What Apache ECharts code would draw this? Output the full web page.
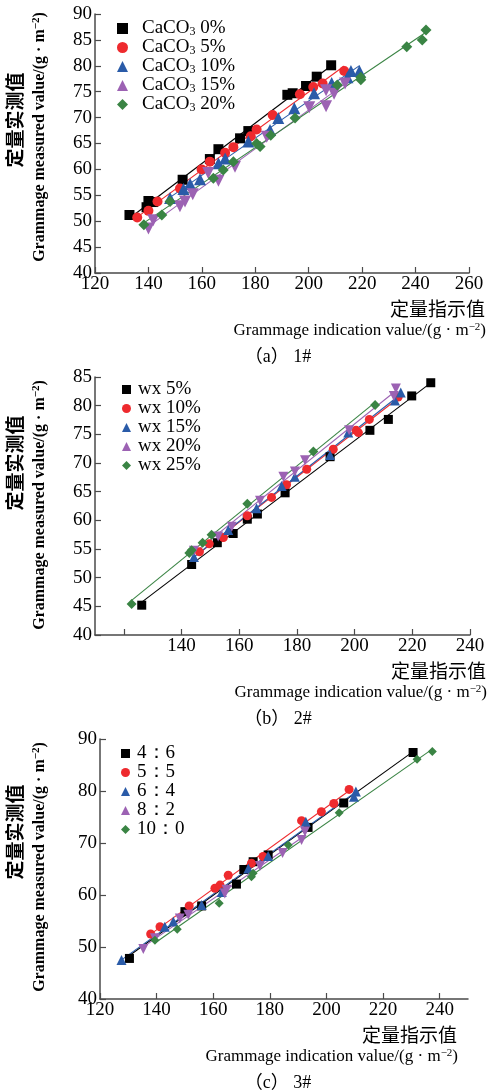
<!DOCTYPE html>
<html><head><meta charset="utf-8">
<script src="https://cdn.jsdelivr.net/npm/echarts@6/dist/echarts.min.js"></script>
<style>html,body{margin:0;padding:0;background:#fff}#c{width:488px;height:1092px}</style>
</head><body><div id="c"></div>
<script>
// ---------- Data ----------
// Panel (a) 1#
const a_names = ['CaCO3 0%','CaCO3 5%','CaCO3 10%','CaCO3 15%','CaCO3 20%'];
const a_caco3_0 = [[132.9,51.2],[139.3,52.7],[140.0,53.9],[141.8,53.7],[152.8,58.0],[163.0,62.0],[166.2,63.9],[174.3,66.0],[177.4,67.4],[192.0,74.4],[194.0,74.7],[199.0,76.1],[203.0,77.9],[208.4,80.1]];
const a_caco3_5 = [[135.8,50.7],[140.0,52.0],[143.4,53.8],[151.8,56.3],[159.9,60.0],[163.0,61.5],[168.7,63.2],[171.8,64.3],[178.3,66.4],[180.5,67.7],[186.5,70.5],[196.7,74.5],[201.7,75.9],[205.2,76.6],[213.3,79.0]];
const a_caco3_10 = [[148.1,54.5],[153.1,56.2],[155.6,57.2],[159.3,58.1],[166.2,61.2],[168.7,62.1],[177.4,65.4],[185.5,67.6],[188.6,69.9],[194.6,71.8],[202.0,74.7],[208.6,76.7],[214.5,77.8],[215.8,79.0],[219.0,79.0]];
const a_caco3_15 = [[140.0,48.6],[141.8,50.2],[151.8,52.9],[153.7,53.8],[156.6,55.2],[162.4,59.3],[166.2,57.8],[172.4,60.5],[184.3,66.3],[200.2,72.0],[206.5,72.2],[206.5,75.3],[209.5,74.6],[213.6,76.6]];
const a_caco3_20 = [[138.3,49.3],[145.0,51.2],[148.1,53.8],[164.3,58.3],[168.0,59.9],[171.8,61.5],[180.5,65.0],[181.8,64.4],[185.8,66.6],[194.9,69.9],[210.7,76.3],[219.5,77.3],[219.5,77.8],[236.7,83.7],[242.5,85.0],[243.9,86.9]];
// Panel (b) 2#
const b_names = ['wx 5%','wx 10%','wx 15%','wx 20%','wx 25%'];
const b_wx5 = [[126.2,45.2],[143.5,52.3],[152.4,56.1],[157.9,57.7],[162.8,60.2],[166.3,61.1],[175.9,64.8],[191.5,71.1],[205.3,75.7],[211.7,77.6],[219.8,81.7],[226.4,84.0]];
const b_wx10 = [[146.2,54.5],[149.6,55.9],[154.5,57.0],[162.8,60.8],[171.2,64.0],[176.4,66.2],[183.4,68.9],[192.6,72.4],[200.5,75.7],[201.3,75.3],[205.1,77.6],[215.1,81.5]];
const b_wx15 = [[144.3,53.6],[156.2,58.3],[166.0,62.1],[174.7,66.0],[179.3,67.6],[191.5,71.4],[197.8,75.3],[214.0,80.9],[216.0,82.3]];
const b_wx20 = [[144.3,54.7],[152.7,57.2],[157.4,58.9],[167.2,63.4],[175.3,67.6],[179.3,68.5],[182.8,70.5],[198.1,75.7],[213.6,81.7],[214.3,83.0]];
const b_wx25 = [[122.7,45.4],[142.7,54.3],[143.5,54.8],[147.3,56.1],[150.4,57.5],[162.8,62.9],[185.7,72.0],[207.1,80.1]];
// Panel (c) 3#
const c_names = ['4：6','5：5','6：4','8：2','10：0'];
const c_46 = [[130.4,47.8],[150.0,56.8],[155.9,57.9],[168.2,62.1],[170.8,64.9],[174.1,66.4],[179.4,67.7],[193.5,73.0],[206.1,77.7],[230.6,87.4]];
const c_55 = [[137.9,52.5],[141.2,53.9],[151.5,57.9],[160.6,61.3],[162.4,61.9],[165.3,63.8],[173.5,66.1],[177.6,67.4],[191.2,74.3],[198.2,76.0],[202.6,77.6],[208.0,80.3]];
const c_64 = [[127.6,47.5],[142.9,53.9],[145.9,54.9],[155.9,58.1],[163.0,60.6],[172.4,65.1],[179.4,67.5],[192.7,74.1],[209.7,78.9],[210.4,79.9]];
const c_82 = [[135.3,49.6],[139.4,51.7],[148.2,55.5],[151.2,56.2],[164.1,60.3],[164.7,61.0],[176.5,65.6],[184.5,68.1],[191.2,70.6],[192.4,72.2]];
const c_100 = [[139.4,51.3],[147.3,53.4],[162.1,58.4],[173.5,63.5],[174.1,64.2],[186.5,69.6],[204.5,75.8],[232.0,86.1],[237.4,87.6]];
// Axis ticks
const a_xticks = [120,140,160,180,200,220,240,260];
const b_xticks = [120,140,160,180,200,220,240];
const b_xlabels = [140,160,180,200,220,240];
const c_xticks = [120,140,160,180,200,220,240];

// ---------- Styling ----------
const SERIF = '"Liberation Serif","Times New Roman",serif';
const CJK = '"Noto Sans CJK SC","Liberation Serif",sans-serif';
const colors = ['#000000','#ee2a2e','#2a5ba8','#9c62b3','#3a8444'];
const symbols = ['rect','circle','triangle','triangle','diamond'];
const rotates = [0,0,0,180,0];
const sizesA = [10,10,12,12,11];
const sizesB = [9,9,10,10,10];
const sizesC = [9,9,10,10,9];
const axisColor = '#4a4a4a';

function fit(pts){
  let n=pts.length,sx=0,sy=0,sxx=0,sxy=0,xmin=Infinity,xmax=-Infinity;
  pts.forEach(p=>{sx+=p[0];sy+=p[1];sxx+=p[0]*p[0];sxy+=p[0]*p[1];xmin=Math.min(xmin,p[0]);xmax=Math.max(xmax,p[0]);});
  const b=(n*sxy-sx*sy)/(n*sxx-sx*sx), a=(sy-b*sx)/n;
  return [[xmin,a+b*xmin],[xmax,a+b*xmax]];
}

const series = [];
function addPanel(idx, names, sets, sizes){
  sets.forEach((pts,i)=>{
    series.push({type:'line',name:names[i]+'_fit',xAxisIndex:idx,yAxisIndex:idx,data:fit(pts),
      showSymbol:false,symbol:'none',silent:true,z:1,lineStyle:{color:colors[i],width:1.1},itemStyle:{color:colors[i]}});
  });
  sets.forEach((pts,i)=>{
    series.push({type:'scatter',name:names[i],xAxisIndex:idx,yAxisIndex:idx,data:pts,z:3,
      symbol:symbols[i],symbolRotate:rotates[i],symbolSize:sizes[i],itemStyle:{color:colors[i],opacity:1}});
  });
}
addPanel(0,a_names,[a_caco3_0,a_caco3_5,a_caco3_10,a_caco3_15,a_caco3_20],sizesA);
addPanel(1,b_names,[b_wx5,b_wx10,b_wx15,b_wx20,b_wx25],sizesB);
addPanel(2,c_names,[c_46,c_55,c_64,c_82,c_100],sizesC);

function xAx(idx,min,max,opts){
  return Object.assign({type:'value',gridIndex:idx,min:min,max:max,
    axisLine:{show:true,lineStyle:{color:axisColor,width:1.5}},
    axisTick:{show:true,inside:true,length:6,lineStyle:{color:axisColor,width:1.2}},
    axisLabel:{color:'#000',fontFamily:SERIF,fontSize:19,margin:2},
    splitLine:{show:false}},opts);
}
function yAx(idx,min,max,interval){
  return {type:'value',gridIndex:idx,min:min,max:max,interval:interval,
    axisLine:{show:true,lineStyle:{color:axisColor,width:1.5}},
    axisTick:{show:true,inside:true,length:6,lineStyle:{color:axisColor,width:1.2}},
    axisLabel:{color:'#000',fontFamily:SERIF,fontSize:19,margin:3},
    splitLine:{show:false}};
}

function legend(names,left,top,size,pad,fmt){
  return {data:names.map(n=>({name:n})),orient:'vertical',left:left,top:top,itemWidth:size,itemHeight:size,itemGap:0,
    textStyle:{color:'#000',fontFamily:SERIF,fontSize:19,lineHeight:19,padding:[0,0,0,pad],
      rich:{sub:{fontFamily:SERIF,fontSize:12,padding:[6,0,0,0],color:'#000'}}},
    formatter:fmt||(n=>n)};
}

const supRich = {s:{fontFamily:SERIF,fontSize:11,padding:[0,0,8,0],color:'#000'}};
const supRichB = {s:{fontFamily:SERIF,fontSize:11,fontWeight:'bold',padding:[0,0,8,0],color:'#000'}};
function ytitle(cy1,cy2){
  return [
    {type:'text',x:15,y:cy1,rotation:Math.PI/2,style:{text:'定量实测值',font:'bold 19px '+CJK,fill:'#000',align:'center',verticalAlign:'middle'}},
    {type:'text',x:40,y:cy2,rotation:Math.PI/2,style:{text:'Grammage measured value/(g · m{s|−2})',fontFamily:SERIF,fontSize:16,fontWeight:'bold',fill:'#000',align:'center',verticalAlign:'middle',rich:supRichB}}
  ];
}
function xtitle(right,axisY,capX,label){
  return [
    {type:'text',x:right,y:axisY+36,style:{text:'定量指示值',font:'19px '+CJK,fill:'#000',align:'right',verticalAlign:'middle'}},
    {type:'text',x:right+1,y:axisY+58,style:{text:'Grammage indication value/(g · m{s|−2})',fontFamily:SERIF,fontSize:17,fill:'#000',align:'right',verticalAlign:'middle',rich:supRich}},
    {type:'text',x:capX,y:axisY+84,style:{text:label,font:'18px '+SERIF+',"Noto Sans CJK SC"',fill:'#000',align:'center',verticalAlign:'middle'}}
  ];
}

const option = {
  animation:false,
  backgroundColor:'#fff',
  grid:[
    {left:95,top:14,width:374,height:259},
    {left:95,top:377,width:375,height:258},
    {left:100,top:739,width:368,height:260}
  ],
  xAxis:[
    xAx(0,120,260,{interval:20}),
    xAx(1,110,240,{axisTick:{show:true,inside:true,length:6,customValues:b_xticks,lineStyle:{color:axisColor,width:1.2}},
      axisLabel:{color:'#000',fontFamily:SERIF,fontSize:19,margin:2,customValues:b_xlabels}}),
    xAx(2,120,250,{axisTick:{show:true,inside:true,length:6,customValues:c_xticks,lineStyle:{color:axisColor,width:1.2}},
      axisLabel:{color:'#000',fontFamily:SERIF,fontSize:19,margin:2,customValues:c_xticks}})
  ],
  yAxis:[yAx(0,40,90,5),yAx(1,40,85,5),yAx(2,40,90,10)],
  legend:[
    legend(a_names,112,14,11,9,n=>n.replace('CaCO3','CaCO{sub|3}')),
    legend(b_names,117,375,9,2),
    legend(c_names,116,739,9,2)
  ],
  graphic:[].concat(
    ytitle(120,137), xtitle(485,273,278,'（a） 1#'),
    ytitle(463,505), xtitle(486,635,278,'（b） 2#'),
    ytitle(832,867), xtitle(457,999,278,'（c） 3#')
  ),
  series:series
};
const chart = echarts.init(document.getElementById('c'),null,{renderer:'canvas'});
chart.setOption(option);
</script></body></html>
